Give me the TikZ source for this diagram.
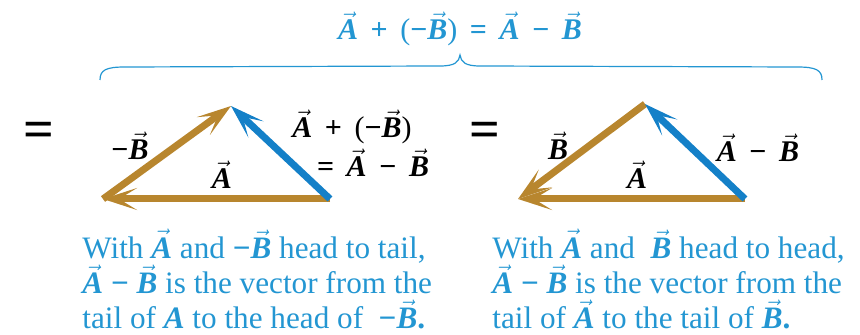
\documentclass[tikz,border=0pt]{standalone}
\usepackage{fontspec}
\setmainfont{Liberation Serif}
\usepackage{tikz}
\usetikzlibrary{arrows.meta}
\definecolor{vecbrown}{RGB}{184, 134, 46}
\definecolor{vecblue}{RGB}{20, 128, 200}
\definecolor{textblue}{RGB}{35, 150, 210}
\newcommand\vb[1]{\ensuremath{\vec{\mbox{\bfseries\itshape #1}}}}
\newcommand\mns{\textbf{−}}
\newcommand\opsp{\hspace{0.42em}}
\tikzset{
  vecline/.style  = {line width=3.5pt, -{Stealth[length=17pt,width=11pt,inset=9pt]}},
  brownvec/.style = {vecline, draw=vecbrown},
  bluevec/.style  = {vecline, draw=vecblue},
  veclabel/.style = {font=\fontsize{15}{17}\selectfont\bfseries, text=black, inner sep=0pt},
  eqsign/.style   = {font=\fontsize{27}{27}\selectfont\bfseries, text=black, inner sep=0pt},
  captext/.style  = {font=\fontsize{15.6}{17.6}\selectfont, text=textblue, align=left,
                     inner sep=0pt, anchor=north west},
  brace/.style    = {draw=textblue, line width=0.6pt}
}

\begin{document}
\begin{tikzpicture}[x=0.5pt, y=-0.5pt]
  \useasboundingbox (0,0) rectangle (860,335);

  % top formula and brace
  \node[font=\fontsize{15}{17}\selectfont\bfseries, text=textblue, inner sep=0pt, anchor=base]
    (sumTop) at (460,40) {\vb{A}\opsp+\opsp{\mdseries(}\mns\vb{B}{\mdseries)}\opsp=\opsp\vb{A}\opsp\mns\opsp\vb{B}};
  \draw[brace] (100,80) .. controls (100,70) and (106,67) .. (125,67) -- (440,66)
    .. controls (455,66) and (459,62) .. (460,55)
    .. controls (461,62) and (465,66) .. (480,66) -- (797,67)
    .. controls (816,67) and (822,70) .. (822,80);

  % equals signs
  \node[eqsign] (eqLeft) at (39,135) {=};
  \node[eqsign] (eqMid) at (485,135) {=};

  % head to tail triangle
  \coordinate (tailL) at (330,199);
  \coordinate (tipL)  at (103,199);
  \coordinate (topL)  at (231,106);
  \draw[brownvec] (tailL) -- (tipL);
  \draw[brownvec] (tipL) -- (topL);
  \draw[bluevec]  (tailL) -- (topL);
  \node[veclabel] (negB) at (130,146) {\mns\vb{B}};
  \node[veclabel] (vecAL) at (222,175) {\vb{A}};
  \node[veclabel] (sumL) at (352,127) {\vb{A}\opsp+\opsp{\mdseries(}\mns\vb{B}{\mdseries)}};
  \node[veclabel] (difL) at (373,163) {=\opsp\vb{A}\opsp\mns\opsp\vb{B}};

  % head to head triangle
  \coordinate (tailR) at (745,199);
  \coordinate (tipR)  at (518,199);
  \coordinate (topR)  at (645,104);
  \draw[brownvec] (tailR) -- (tipR);
  \draw[brownvec] (topR) -- (tipR);
  \draw[bluevec]  (tailR) -- (topR);
  \node[veclabel] (vecB) at (558,146) {\vb{B}};
  \node[veclabel] (vecAR) at (637,175) {\vb{A}};
  \node[veclabel] (difR) at (758,148) {\vb{A}\opsp\mns\opsp\vb{B}};

  % captions
  \node[captext] (capTail) at (82,229) {With \vb{A} and \mns\vb{B} head to tail,\\
    \vb{A} \mns\ \vb{B} is the vector from the\\
    tail of \textbf{\textit{A}} to the head of \ \mns\vb{B}\textbf{.}};
  \node[captext] (capHead) at (492,229) {With \vb{A} and \ \vb{B} head to head,\\
    \vb{A} \mns\ \vb{B} is the vector from the\\
    tail of \vb{A} to the tail of \vb{B}\textbf{.}};
\end{tikzpicture}
\end{document}
